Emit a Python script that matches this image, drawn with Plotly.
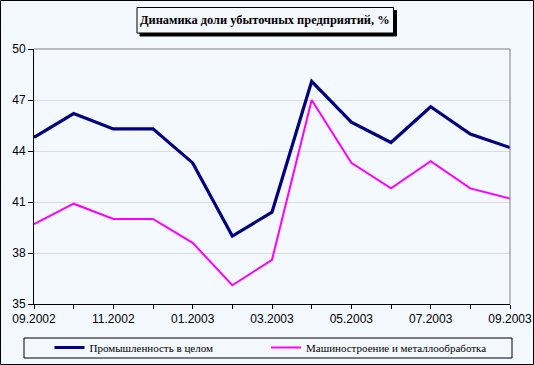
import plotly.graph_objects as go

months = ["09.2002", "10.2002", "11.2002", "12.2002", "01.2003", "02.2003", "03.2003",
          "04.2003", "05.2003", "06.2003", "07.2003", "08.2003", "09.2003"]
industry = [44.8, 46.2, 45.3, 45.3, 43.3, 39.0, 40.4, 48.1, 45.7, 44.5, 46.6, 45.0, 44.2]
machinery = [39.7, 40.9, 40.0, 40.0, 38.6, 36.1, 37.6, 47.0, 43.3, 41.8, 43.4, 41.8, 41.2]
series_names = ["Промышленность в целом", "Машиностроение и металлообработка"]
title_text = "Динамика доли убыточных предприятий, %"
y_ticks = [35, 38, 41, 44, 47, 50]

W, H = 534, 365
L, R, T, B = 34, 510, 49, 304
BG = "#F4F8FF"


def px(x):
    return (x - L) / (R - L)


def py(y):
    return (B - y) / (B - T)


xs = list(range(len(months)))
ticktext = [m if i % 2 == 0 else "" for i, m in enumerate(months)]

fig = go.Figure()
fig.add_trace(go.Scatter(x=xs, y=industry, mode="lines", name=series_names[0],
                         line=dict(color="#000080", width=3.2), legend="legend"))
fig.add_trace(go.Scatter(x=xs, y=machinery, mode="lines", name=series_names[1],
                         line=dict(color="#FF00FF", width=2), legend="legend2"))

shapes = [
    # outer border
    dict(type="rect", xref="paper", yref="paper", x0=px(0.5), x1=px(533.5), y0=py(0.5), y1=py(364.5),
         line=dict(color="black", width=1), layer="above"),
    # top and right gray plot borders
    dict(type="line", xref="paper", yref="paper", x0=0, x1=1, y0=1, y1=1,
         line=dict(color="#808080", width=1), layer="above"),
    dict(type="line", xref="paper", yref="paper", x0=1, x1=1, y0=0, y1=1,
         line=dict(color="#808080", width=1), layer="above"),
    # title shadow & box
    dict(type="rect", xref="paper", yref="paper", x0=px(140), x1=px(396.5), y0=py(10.5), y1=py(36),
         fillcolor="black", line=dict(color="black", width=1), layer="above"),
    dict(type="rect", xref="paper", yref="paper", x0=px(137), x1=px(393.5), y0=py(7.5), y1=py(33),
         fillcolor=BG, line=dict(color="black", width=1), layer="above"),
    # legend box
    dict(type="rect", xref="paper", yref="paper", x0=px(24), x1=px(512), y0=py(338), y1=py(358),
         line=dict(color="black", width=1), layer="above"),
]

legend_common = dict(orientation="h", y=py(347.5), xanchor="left", yanchor="middle",
                     bgcolor="rgba(0,0,0,0)", borderwidth=0,
                     font=dict(family="Liberation Serif", size=11, color="black"),
                     itemclick=False, itemdoubleclick=False)

fig.update_layout(
    width=W, height=H,
    margin=dict(l=L, r=W - R, t=T, b=H - B, pad=0, autoexpand=False),
    paper_bgcolor=BG, plot_bgcolor=BG,
    font=dict(family="Liberation Serif", size=12, color="black"),
    shapes=shapes,
    annotations=[dict(text="<b>" + title_text + "</b>", xref="paper", yref="paper",
                      x=px(265), y=py(20.5), xanchor="center", yanchor="middle", showarrow=False,
                      font=dict(family="Liberation Serif", size=12.4, color="black"))],
    showlegend=True,
    legend=dict(x=px(49.5), **legend_common),
    legend2=dict(x=px(266), **legend_common),
    xaxis=dict(range=[0, 12], tickmode="array", tickvals=xs, ticktext=ticktext,
               showgrid=False, zeroline=False, showline=True, linecolor="black", linewidth=1,
               ticks="outside", ticklen=4, tickcolor="black", automargin=False,
               tickfont=dict(family="Liberation Sans", size=12, color="black")),
    yaxis=dict(range=[35, 50], tickmode="array", tickvals=y_ticks,
               showgrid=True, gridcolor="#DCDCDC", gridwidth=1, zeroline=False,
               showline=True, linecolor="black", linewidth=1, automargin=False,
               ticks="outside", ticklen=5, tickcolor="black",
               tickfont=dict(family="Liberation Sans", size=12, color="black")),
)

fig.write_html("out.html", config={"displayModeBar": False},
               post_script="document.body.style.margin='0';")
